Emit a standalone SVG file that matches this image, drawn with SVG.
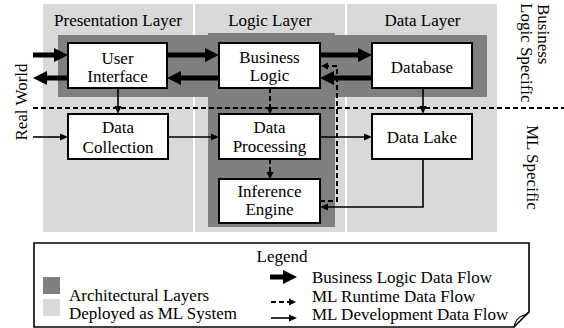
<svg xmlns="http://www.w3.org/2000/svg" width="564" height="328" viewBox="0 0 564 328">
<style>
text{font-family:"Liberation Serif","Times New Roman",serif;font-size:17px;fill:#000}
.c{text-anchor:middle}
.col{fill:#d9d9d9}
.arch{fill:#7f7f7f}
.box{fill:#fff;stroke:#000;stroke-width:2}
.thick{fill:none;stroke:#000;stroke-width:5}
.thin{fill:none;stroke:#000;stroke-width:1.6}
.dash{fill:none;stroke:#000;stroke-width:2;stroke-dasharray:5 3}
</style>
<defs>
<marker id="ah" markerUnits="userSpaceOnUse" markerWidth="14" markerHeight="16" refX="1" refY="8" orient="auto"><path d="M0,1 L14,8 L0,15 z" fill="#000"/></marker>
<marker id="at" markerUnits="userSpaceOnUse" markerWidth="8" markerHeight="8" refX="1" refY="4" orient="auto"><path d="M0,0.5 L8,4 L0,7.5 z" fill="#000"/></marker>
<marker id="ad" markerUnits="userSpaceOnUse" markerWidth="7" markerHeight="8" refX="1" refY="4" orient="auto"><path d="M0,0.5 L7,4 L0,7.5 z" fill="#000"/></marker>
</defs>

<g id="layers">
<rect class="col" x="43" y="4" width="150" height="228"/>
<rect class="col" x="195" y="4" width="150" height="228"/>
<rect class="col" x="347" y="4" width="150" height="228"/>
<rect class="arch" x="58" y="35" width="429" height="62"/>
<rect class="arch" x="208" y="33" width="127" height="194"/>
<text class="c" x="118" y="26">Presentation Layer</text>
<text class="c" x="270" y="26">Logic Layer</text>
<text class="c" x="422.5" y="26">Data Layer</text>
</g>

<g id="side-labels">
<text class="c" transform="translate(27,102) rotate(-90)">Real World</text>
<text transform="translate(538,4) rotate(90)">Business</text>
<text transform="translate(521,3) rotate(90)">Logic Specific</text>
<text transform="translate(527,125) rotate(90)">ML Specific</text>
</g>

<g id="separator">
<line class="dash" x1="33" y1="108" x2="564" y2="108"/>
</g>

<g id="connectors">
<path class="thick" d="M33,55 H55" marker-end="url(#ah)"/>
<path class="thick" d="M68,78 H46" marker-end="url(#ah)"/>
<path class="thick" d="M167,55 H206" marker-end="url(#ah)"/>
<path class="thick" d="M219,78 H180" marker-end="url(#ah)"/>
<path class="thick" d="M320,55 H359" marker-end="url(#ah)"/>
<path class="thick" d="M372,78 H333" marker-end="url(#ah)"/>
<path class="thin" d="M118,88 V107" marker-end="url(#at)"/>
<path class="thin" d="M423,88 V107" marker-end="url(#at)"/>
<path class="thin" d="M33,137 H61" marker-end="url(#at)"/>
<path class="thin" d="M168,137 H212" marker-end="url(#at)"/>
<path class="thin" d="M320,137 H365" marker-end="url(#at)"/>
<path class="thin" d="M423,159 V207 H327" marker-end="url(#at)"/>
<path class="dash" d="M270,88 V108" marker-end="url(#ad)"/>
<path class="dash" d="M270,159 V173" marker-end="url(#ad)"/>
<path class="dash" d="M320,201 H337 V66 H327" marker-end="url(#ad)"/>
</g>

<g id="user-interface">
<rect class="box" x="68" y="43" width="99" height="45"/>
<text class="c" x="117.5" y="64">User</text>
<text class="c" x="117.5" y="82">Interface</text>
</g>
<g id="business-logic">
<rect class="box" x="219" y="43" width="101" height="45"/>
<text class="c" x="269.5" y="63">Business</text>
<text class="c" x="269.5" y="81">Logic</text>
</g>
<g id="database">
<rect class="box" x="372" y="43" width="100" height="45"/>
<text class="c" x="422" y="73">Database</text>
</g>
<g id="data-collection">
<rect class="box" x="68" y="114" width="100" height="45"/>
<text class="c" x="118" y="133">Data</text>
<text class="c" x="118" y="153">Collection</text>
</g>
<g id="data-processing">
<rect class="box" x="219" y="114" width="101" height="45"/>
<text class="c" x="269.5" y="133">Data</text>
<text class="c" x="269.5" y="152">Processing</text>
</g>
<g id="data-lake">
<rect class="box" x="372" y="114" width="100" height="45"/>
<text class="c" x="422" y="143">Data Lake</text>
</g>
<g id="inference-engine">
<rect class="box" x="219" y="179" width="101" height="44"/>
<text class="c" x="269.5" y="197">Inference</text>
<text class="c" x="269.5" y="215">Engine</text>
</g>

<g id="legend">
<path d="M34,243 H529 V312 L514,327 H34 Z" fill="#fff" stroke="#000" stroke-width="1.6"/>
<path d="M514,327 Q516,318 522,316 Q526,315 529,312" fill="none" stroke="#000" stroke-width="1.2"/>
<text class="c" x="282" y="262">Legend</text>
<rect class="arch" x="43" y="277" width="17" height="17"/>
<rect class="col" x="43" y="299" width="17" height="17"/>
<text x="69" y="301">Architectural Layers</text>
<text x="69" y="319">Deployed as ML System</text>
<path class="thick" d="M270,277 H284" marker-end="url(#ah)"/>
<path class="dash" d="M271,302 H290" marker-end="url(#ad)"/>
<path class="thin" d="M271,318 H290" marker-end="url(#at)"/>
<text x="312" y="283">Business Logic Data Flow</text>
<text x="312" y="302">ML Runtime Data Flow</text>
<text x="312" y="320">ML Development Data Flow</text>
</g>
</svg>
